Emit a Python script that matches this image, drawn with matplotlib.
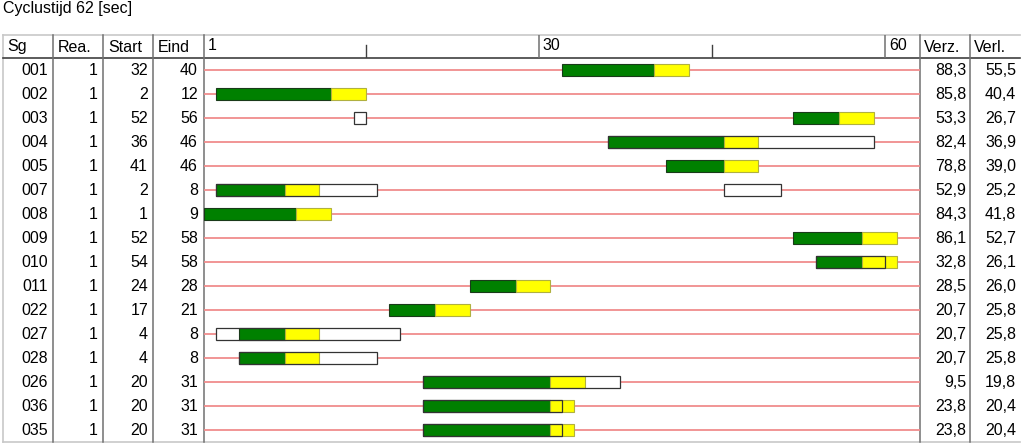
import matplotlib
matplotlib.use('Agg')
import matplotlib.pyplot as plt

plt.rcParams['font.family'] = ['Liberation Sans', 'DejaVu Sans']

# Signal group table data
signal_groups = ['001', '002', '003', '004', '005', '007', '008', '009',
                 '010', '011', '022', '027', '028', '026', '036', '035']
realisation = [1] * 16
start = [32, 2, 52, 36, 41, 2, 1, 52, 54, 24, 17, 4, 4, 20, 20, 20]
eind = [40, 12, 56, 46, 46, 8, 9, 58, 58, 28, 21, 8, 8, 31, 31, 31]
yellow_time = [3, 3, 3, 3, 3, 3, 3, 3, 3, 3, 3, 3, 3, 3, 2, 2]
verz = ['88,3', '85,8', '53,3', '82,4', '78,8', '52,9', '84,3', '86,1',
        '32,8', '28,5', '20,7', '20,7', '20,7', '9,5', '23,8', '23,8']
verl = ['55,5', '40,4', '26,7', '36,9', '39,0', '25,2', '41,8', '52,7',
        '26,1', '26,0', '25,8', '25,8', '25,8', '19,8', '20,4', '20,4']
# outlined (empty) boxes per row: (from, to) in seconds
boxes = {2: [(14, 15)], 3: [(36, 59)], 5: [(2, 16), (46, 51)], 8: [(54, 60)],
         11: [(2, 18)], 12: [(4, 16)], 13: [(20, 37)], 14: [(20, 32)], 15: [(20, 32)]}
cycle = 62
time_labels = [1, 30, 60]
minor_ticks = [15, 45]

W, H = 1024, 446
fig = plt.figure(figsize=(W / 100, H / 100), dpi=100)
fig.patch.set_facecolor('white')

def px_axes(x0, y0, x1, y1):
    return fig.add_axes([x0 / W, 1 - y1 / H, (x1 - x0) / W, (y1 - y0) / H])

# table layer in pixel coordinates
tab = fig.add_axes([0, 0, 1, 1])
tab.set_xlim(0, W)
tab.set_ylim(H, 0)
tab.axis('off')

top, head_bot, bot = 35, 58, 442
row_h = (bot - head_bot) / len(signal_groups)
light = '#c8c8c8'
mid = '#707070'

tab.plot([3, 1020], [top, top], color=light, lw=1.2)
tab.plot([3, 1020], [bot, bot], color=light, lw=1.2)
tab.plot([3, 3], [top, bot], color=light, lw=1.2)
tab.plot([3, 1020], [head_bot, head_bot], color='#404040', lw=1.2)
for xs in [53, 103, 153, 203.5, 920, 970]:
    tab.plot([xs, xs], [top, bot], color=mid, lw=1.1)

fs = 11.5
tab.text(3, 8, 'Cyclustijd %d [sec]' % cycle, fontsize=fs, va='center', ha='left')

head_y = (top + head_bot) / 2 + 0.5
for x, lbl in [(7, 'Sg'), (58, 'Rea.'), (108, 'Start'), (158, 'Eind'), (924, 'Verz.'), (974, 'Verl.')]:
    tab.text(x, head_y, lbl, fontsize=fs, va='center', ha='left')

for i in range(len(signal_groups)):
    yc = head_bot + row_h * (i + 0.5) + 0.5
    tab.text(48, yc, signal_groups[i], fontsize=fs, va='center', ha='right')
    tab.text(98, yc, str(realisation[i]), fontsize=fs, va='center', ha='right')
    tab.text(148, yc, str(start[i]), fontsize=fs, va='center', ha='right')
    tab.text(198, yc, str(eind[i]), fontsize=fs, va='center', ha='right')
    tab.text(966, yc, verz[i], fontsize=fs, va='center', ha='right')
    tab.text(1016, yc, verl[i], fontsize=fs, va='center', ha='right')

# header time scale
hx = px_axes(204, top, 920, head_bot)
hx.set_xlim(1, cycle + 1)
hx.set_ylim(1, 0)
hx.axis('off')
for t in time_labels:
    if t > 1:
        hx.plot([t, t], [0.02, 1], color=mid, lw=1.1)
    hx.text(t + 0.35, 0.45, str(t), fontsize=fs, va='center', ha='left')
for t in minor_ticks:
    hx.plot([t, t], [0.45, 1], color='#404040', lw=1.0)

# timing diagram
ax = px_axes(204, head_bot, 920, bot)
ax.set_xlim(1, cycle + 1)
ax.set_ylim(len(signal_groups), 0)
ax.axis('off')

bar_h = 0.46
for i in range(len(signal_groups)):
    yc = i + 0.5
    ax.plot([1, cycle + 1], [yc, yc], color='#f08c8c', lw=1.3, zorder=1)
    for b0, b1 in boxes.get(i, []):
        ax.barh(yc, b1 - b0, left=b0, height=bar_h, color='white', edgecolor='none', zorder=2)
    ax.barh(yc, eind[i] - start[i], left=start[i], height=bar_h,
            color='#008000', edgecolor='#1a3a1a', lw=0.8, zorder=3)
    ax.barh(yc, yellow_time[i], left=eind[i], height=bar_h,
            color='#ffff00', edgecolor='#b0b040', lw=0.8, zorder=3)
    for b0, b1 in boxes.get(i, []):
        ax.barh(yc, b1 - b0, left=b0, height=bar_h, fill=False, edgecolor='#333333', lw=0.9, zorder=4)

fig.savefig('out.png', dpi=100, facecolor='white')
